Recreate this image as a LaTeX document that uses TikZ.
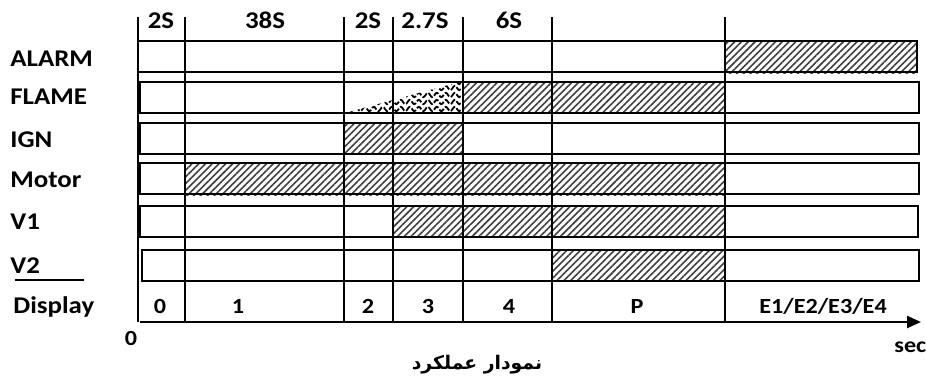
\documentclass[tikz,border=0pt]{standalone}
\usepackage{fontspec}
\setmainfont{Carlito}[FakeStretch=1.12]
\newfontfamily\farsifont[Script=Arabic]{DejaVu Sans}
\TeXXeTstate=1
\usetikzlibrary{arrows.meta, patterns.meta, decorations.pathmorphing}

\begin{document}
\begin{tikzpicture}[x=0.5pt, y=-0.5pt,
  lab/.style={font=\fontsize{12}{13}\selectfont\bfseries, inner sep=0pt},
  val/.style={font=\fontsize{10.8}{13}\selectfont\bfseries, inner sep=0pt},
  box/.style={draw, line width=1pt},
  hatch/.style={pattern={Lines[angle=45, distance=2.4pt, line width=0.8pt]}, pattern color=black!75},
  wave/.style={decorate, decoration={snake, amplitude=1.1pt, segment length=4.5pt}, line width=0.9pt, dash pattern=on 3pt off 1pt}]
  \useasboundingbox (0,0) rectangle (926,376);

  % signal labels
  \node[lab, anchor=base west] (alarm) at (10,66) {ALARM};
  \node[lab, anchor=base west] (flame) at (10,104) {FLAME};
  \node[lab, anchor=base west] (ign) at (10,147) {IGN};
  \node[lab, anchor=base west] (motor) at (10,187) {Motor};
  \node[lab, anchor=base west] (vone) at (10,229) {V1};
  \node[lab, anchor=base west] (vtwo) at (10,273) {V2};
  \node[lab, anchor=base west] (display) at (13,313) {Display};
  \draw[line width=1pt] (15,280) -- (84,280);

  % active intervals
  \fill[hatch] (725,41) rectangle (917,73);
  \fill[hatch] (463,82) rectangle (725,113);
  \fill[hatch] (344,123) rectangle (463,154);
  \fill[hatch] (185,163) rectangle (725,195);
  \fill[hatch] (393,206) rectangle (725,237);
  \fill[hatch] (552,250) rectangle (725,281);

  % flame building up
  \begin{scope}
    \clip (345,113) -- (463,113) -- (463,81) -- cycle;
    \foreach \yy in {109,102,95,88,82}
      \draw[wave] (344,\yy) -- (463,\yy);
  \end{scope}

  % signal rows
  \foreach \lft/\ya/\rgt in {138/41/917, 140/82/919, 140/123/919, 140/163/919, 140/206/918, 142/250/919}
    \draw[box] (\lft,\ya) rectangle (\rgt,\ya+31);

  % time steps
  \foreach \xx in {138,185,344,393,463,552,725}
    \draw[line width=1pt] (\xx,17) -- (\xx,322);
  \node[lab, anchor=base] (tzero) at (161,28) {2S};
  \node[lab, anchor=base] (tone) at (265,28) {38S};
  \node[lab, anchor=base] (ttwo) at (368,28) {2S};
  \node[lab, anchor=base] (tthree) at (425,28) {2.7S};
  \node[lab, anchor=base] (tfour) at (509,28) {6S};

  % display codes
  \node[val, anchor=base] (dzero) at (160,313) {0};
  \node[val, anchor=base] (done) at (238,313) {1};
  \node[val, anchor=base] (dtwo) at (368,313) {2};
  \node[val, anchor=base] (dthree) at (428,313) {3};
  \node[val, anchor=base] (dfour) at (509,313) {4};
  \node[val, anchor=base] (dp) at (637,313) {P};
  \node[val, anchor=base] (derr) at (823,313) {E1/E2/E3/E4};

  % time axis
  \coordinate (origin) at (140,322);
  \coordinate (axisend) at (921,322);
  \draw[line width=1.2pt, -{Triangle[length=7pt, width=6pt]}] (origin) -- (axisend);
  \node[val, anchor=base] (zero) at (131,345) {0};
  \node[val, anchor=base west] (sec) at (894,352) {sec};
  \node[font=\farsifont\bfseries\fontsize{9.4}{12}\selectfont, inner sep=0pt] (title) at (477,365) {\beginR نمودار عملکرد\endR};
\end{tikzpicture}
\end{document}
